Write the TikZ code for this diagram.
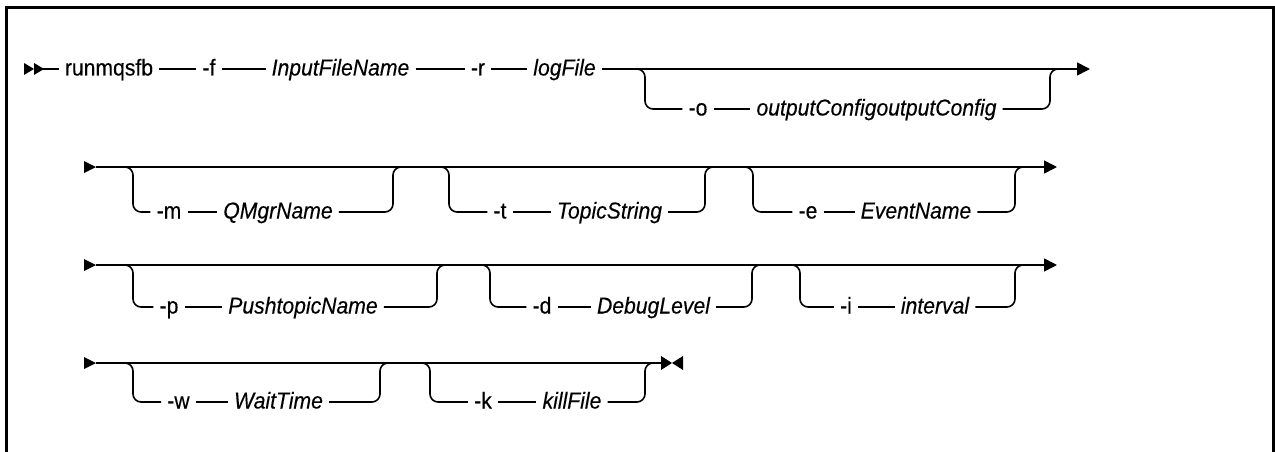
\documentclass[tikz,border=0pt]{standalone}
\usepackage{fontspec}
\setmainfont{Liberation Sans}
\newfontfamily\rrfont[FakeStretch=0.92, FakeBold=0.3]{Liberation Sans}
\usetikzlibrary{arrows.meta}
\tikzset{
  lbl/.style={font=\rrfont\fontsize{23}{27}\selectfont, inner xsep=6pt, inner ysep=0pt, text height=15pt, text depth=2pt},
  var/.style={lbl, font=\rrfont\fontsize{23}{27}\selectfont\itshape},
  ln/.style={line width=1.6pt},
  rr/.style={line width=1.6pt, rounded corners=8pt},
  tip/.style={-{Triangle[length=13pt,width=13pt]}},
  frame/.style={line width=3pt}
}
\begin{document}
\begin{tikzpicture}[x=1pt,y=-1pt]
\useasboundingbox (0,0) rectangle (1275,452);
% frame
\draw[frame] (6.5,452) -- (6.5,8) -- (1273.5,8) -- (1273.5,452);

% ---------------- Row 1 ----------------
\fill (24,63) -- (34,69) -- (24,75) -- cycle;
\fill (34,63) -- (44,69) -- (34,75) -- cycle;
\coordinate (r1s) at (43,69);
\coordinate (r1e) at (1090,69);
\node[lbl] (cmd) at (109,69) {runmqsfb};
\node[lbl] (f) at (209,69) {-f};
\node[var] (ifn) at (340.5,69) {InputFileName};
\node[lbl] (r) at (478,69) {-r};
\node[var] (log) at (564.5,69) {logFile};
\draw[ln] (r1s) -- (cmd);
\draw[ln] (cmd) -- (f);
\draw[ln] (f) -- (ifn);
\draw[ln] (ifn) -- (r);
\draw[ln] (r) -- (log);
\draw[ln,tip] (log) -- (r1e);
% optional -o
\coordinate (oL) at (629,69);
\coordinate (oR) at (1066,69);
\node[lbl] (o) at (698,109) {-o};
\node[var] (ocfg) at (876.5,109) {outputConfigoutputConfig};
\draw[rr] (oL) -- ++(16,0) |- (o.west);
\draw[ln] (o) -- (ocfg);
\draw[rr] (ocfg.east) -| ([xshift=-16pt]oR) -- (oR);

% ---------------- Row 2 ----------------
\fill (84,161) -- (96,167) -- (84,173) -- cycle;
\coordinate (r2s) at (96,167);
\coordinate (r2e) at (1057,167);
\draw[ln,tip] (r2s) -- (r2e);
% -m
\coordinate (mL) at (117,167);
\coordinate (mR) at (409,167);
\node[lbl] (m) at (169,212) {-m};
\node[var] (qmgr) at (278,212) {QMgrName};
\draw[rr] (mL) -- ++(16,0) |- (m.west);
\draw[ln] (m) -- (qmgr);
\draw[rr] (qmgr.east) -| ([xshift=-16pt]mR) -- (mR);
% -t
\coordinate (tL) at (433,167);
\coordinate (tR) at (721,167);
\node[lbl] (t) at (500,212) {-t};
\node[var] (topic) at (609.5,212) {TopicString};
\draw[rr] (tL) -- ++(16,0) |- (t.west);
\draw[ln] (t) -- (topic);
\draw[rr] (topic.east) -| ([xshift=-16pt]tR) -- (tR);
% -e
\coordinate (eL) at (737,167);
\coordinate (eR) at (1031,167);
\node[lbl] (e) at (808,212) {-e};
\node[var] (event) at (916,212) {EventName};
\draw[rr] (eL) -- ++(16,0) |- (e.west);
\draw[ln] (e) -- (event);
\draw[rr] (event.east) -| ([xshift=-16pt]eR) -- (eR);

% ---------------- Row 3 ----------------
\fill (84,259) -- (96,265) -- (84,271) -- cycle;
\coordinate (r3s) at (96,265);
\coordinate (r3e) at (1057,265);
\draw[ln,tip] (r3s) -- (r3e);
% -p
\coordinate (pL) at (117,265);
\coordinate (pR) at (453,265);
\node[lbl] (p) at (169,307) {-p};
\node[var] (push) at (303,307) {PushtopicName};
\draw[rr] (pL) -- ++(16,0) |- (p.west);
\draw[ln] (p) -- (push);
\draw[rr] (push.east) -| ([xshift=-16pt]pR) -- (pR);
% -d
\coordinate (dL) at (474,265);
\coordinate (dR) at (768,265);
\node[lbl] (d) at (542,307) {-d};
\node[var] (debug) at (653.5,307) {DebugLevel};
\draw[rr] (dL) -- ++(16,0) |- (d.west);
\draw[ln] (d) -- (debug);
\draw[rr] (debug.east) -| ([xshift=-16pt]dR) -- (dR);
% -i
\coordinate (iL) at (784,265);
\coordinate (iR) at (1031,265);
\node[lbl] (i) at (846,307) {-i};
\node[var] (intv) at (935,307) {interval};
\draw[rr] (iL) -- ++(16,0) |- (i.west);
\draw[ln] (i) -- (intv);
\draw[rr] (intv.east) -| ([xshift=-16pt]iR) -- (iR);

% ---------------- Row 4 ----------------
\fill (84,357) -- (96,363) -- (84,369) -- cycle;
\coordinate (r4s) at (96,363);
\coordinate (r4e) at (662,363);
\draw[ln] (r4s) -- (r4e);
\fill (661,356) -- (672,363) -- (661,370) -- cycle;
\fill (683,356) -- (672,363) -- (683,370) -- cycle;
% -w
\coordinate (wL) at (117,363);
\coordinate (wR) at (396,363);
\node[lbl] (w) at (178.5,402) {-w};
\node[var] (wait) at (278.5,402) {WaitTime};
\draw[rr] (wL) -- ++(16,0) |- (w.west);
\draw[ln] (w) -- (wait);
\draw[rr] (wait.east) -| ([xshift=-16pt]wR) -- (wR);
% -k
\coordinate (kL) at (414,363);
\coordinate (kR) at (661,363);
\node[lbl] (k) at (483,402) {-k};
\node[var] (kill) at (572,402) {killFile};
\draw[rr] (kL) -- ++(16,0) |- (k.west);
\draw[ln] (k) -- (kill);
\draw[rr] (kill.east) -| ([xshift=-16pt]kR) -- (kR);
\end{tikzpicture}
\end{document}
